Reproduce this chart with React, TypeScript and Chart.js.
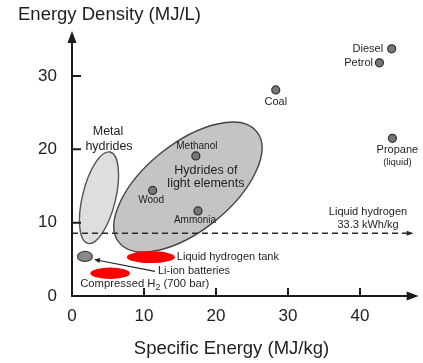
import React, { useEffect, useRef } from "react";
import { Chart, registerables } from "chart.js";

Chart.register(...registerables);

// ---------- data ----------
const fuelNames = ["Diesel", "Petrol", "Coal", "Propane", "Methanol", "Wood", "Ammonia"];
const specificEnergy = [44.4, 42.7, 28.3, 44.5, 17.2, 11.2, 17.5]; // MJ/kg
const energyDensity = [33.7, 31.8, 28.1, 21.5, 19.1, 14.4, 11.6]; // MJ/L

const xTickValues = [0, 10, 20, 30, 40];
const yTickValues = [0, 10, 20, 30];

const regionNames = ["Metal hydrides", "Hydrides of light elements", "Li-ion batteries", "Liquid hydrogen tank", "Compressed H2 (700 bar)"];
const regionCenterX = [3.75, 16.1, 1.8, 10.95, 5.3]; // MJ/kg
const regionCenterY = [13.4, 14.85, 5.4, 5.3, 3.1]; // MJ/L
const regionSemiMajor = [6.53, 12.28, 1.04, 3.33, 2.74]; // in MJ/kg units
const regionSemiMinor = [2.3, 6.03, 0.69, 0.83, 0.8]; // in MJ/kg units

const liquidHydrogenDensity = 8.55; // MJ/L
const liquidHydrogenLabel = ["Liquid hydrogen", "33.3 kWh/kg"];

const xTitle = "Specific Energy (MJ/kg)";
const yTitle = "Energy Density (MJ/L)";

// ---------- styles / layout ----------
const FONT = "'Liberation Sans', Arial, Helvetica, sans-serif";
const TEXT = "#1e1e1e";
const AXIS = "#1a1a1a";

const regionStyle = [
  { rot: -76.3, fill: "#dedede", stroke: "#555", lw: 1.4 },
  { rot: -38.9, fill: "#c4c4c4", stroke: "#444", lw: 1.4 },
  { rot: 0, fill: "#8a8a8a", stroke: "#444", lw: 1.2 },
  { rot: 0, fill: "#ff0000", stroke: null, lw: 0 },
  { rot: 0, fill: "#ff0000", stroke: null, lw: 0 },
];

// label line(s) per region: [text, dx, dy, align, size]
const regionLabelLayout: any[] = [
  [["Metal", 9, -66, "center", 12.5], ["hydrides", 10, -51, "center", 12.5]],
  [["Hydrides of", 18, -16.5, "center", 12.5], ["light elements", 18, -3.5, "center", 12.5]],
  [["Li-ion batteries", 73, 15, "left", 11]],
  [["Liquid hydrogen tank", 26, 0.3, "left", 11]],
  [["SUB", -30, 11, "left", 11.3]],
];

// [dx, dy, align, size]
const pointLabelLayout: any[] = [
  [-8.5, 0.3, "right", 11],
  [-6.5, 0, "right", 11],
  [0, 11.7, "center", 11],
  [5, 11.7, "center", 11],
  [1, -9.5, "center", 10],
  [-1.5, 10, "center", 10],
  [-3, 9.3, "center", 10],
];

function arrowHead(ctx: CanvasRenderingContext2D, tipX: number, tipY: number, dirX: number, dirY: number, len: number, half: number) {
  const nx = -dirY, ny = dirX;
  const bx = tipX - dirX * len, by = tipY - dirY * len;
  ctx.beginPath();
  ctx.moveTo(tipX, tipY);
  ctx.lineTo(bx + nx * half, by + ny * half);
  ctx.lineTo(bx - nx * half, by - ny * half);
  ctx.closePath();
  ctx.fill();
}

const overlayPlugin = {
  id: "overlay",
  beforeDatasetsDraw(chart: any) {
    const { ctx, scales } = chart;
    const x = scales.x, y = scales.y;
    const unit = (v: number) => x.getPixelForValue(v) - x.getPixelForValue(0);
    regionNames.forEach((_, i) => {
      const s = regionStyle[i];
      ctx.save();
      ctx.beginPath();
      ctx.ellipse(
        x.getPixelForValue(regionCenterX[i]),
        y.getPixelForValue(regionCenterY[i]),
        unit(regionSemiMajor[i]),
        unit(regionSemiMinor[i]),
        (s.rot * Math.PI) / 180,
        0,
        Math.PI * 2
      );
      ctx.fillStyle = s.fill;
      ctx.fill();
      if (s.stroke) {
        ctx.lineWidth = s.lw;
        ctx.strokeStyle = s.stroke;
        ctx.stroke();
      }
      ctx.restore();
    });
  },
  afterDatasetsDraw(chart: any) {
    const { ctx, scales, chartArea } = chart;
    const x = scales.x, y = scales.y;
    ctx.save();

    // dashed liquid hydrogen line
    const ly = y.getPixelForValue(liquidHydrogenDensity);
    ctx.strokeStyle = "#2a2a2a";
    ctx.fillStyle = "#2a2a2a";
    ctx.lineWidth = 1.4;
    ctx.setLineDash([6, 4]);
    ctx.beginPath();
    ctx.moveTo(chartArea.left, ly);
    ctx.lineTo(chartArea.right - 8, ly);
    ctx.stroke();
    ctx.setLineDash([]);
    arrowHead(ctx, chartArea.right - 4, ly, 1, 0, 7, 2.5);

    ctx.fillStyle = TEXT;
    ctx.font = `11px ${FONT}`;
    ctx.textAlign = "center";
    ctx.textBaseline = "middle";
    ctx.fillText(liquidHydrogenLabel[0], 368, ly - 21);
    ctx.fillText(liquidHydrogenLabel[1], 368, ly - 8.7);

    // axes
    ctx.strokeStyle = AXIS;
    ctx.fillStyle = AXIS;
    ctx.lineWidth = 2;
    ctx.beginPath();
    ctx.moveTo(chartArea.left, chartArea.bottom + 1);
    ctx.lineTo(chartArea.left, chartArea.top + 8);
    ctx.moveTo(chartArea.left - 1, chartArea.bottom);
    ctx.lineTo(chartArea.right - 8, chartArea.bottom);
    ctx.stroke();
    arrowHead(ctx, chartArea.left, chartArea.top - 1, 0, -1, 12, 4.5);
    arrowHead(ctx, chartArea.right + 1, chartArea.bottom, 1, 0, 12, 4.5);

    // tick marks (inward)
    ctx.lineWidth = 2;
    ctx.beginPath();
    yTickValues.forEach((v) => {
      if (v === 0) return;
      const py = y.getPixelForValue(v);
      ctx.moveTo(chartArea.left, py);
      ctx.lineTo(chartArea.left + 9, py);
    });
    xTickValues.forEach((v) => {
      if (v === 0) return;
      const px = x.getPixelForValue(v);
      ctx.moveTo(px, chartArea.bottom);
      ctx.lineTo(px, chartArea.bottom - 8);
    });
    ctx.stroke();

    // point labels
    const meta = chart.getDatasetMeta(0);
    ctx.fillStyle = TEXT;
    ctx.textBaseline = "middle";
    fuelNames.forEach((name, i) => {
      const el = meta.data[i];
      const [dx, dy, align, size] = pointLabelLayout[i];
      ctx.font = `${size}px ${FONT}`;
      ctx.textAlign = align;
      ctx.fillText(name, el.x + dx, el.y + dy);
    });
    // propane note
    {
      const el = meta.data[3];
      ctx.font = `9.5px ${FONT}`;
      ctx.textAlign = "center";
      ctx.fillText("(liquid)", el.x + 5, el.y + 24.4);
    }

    // region labels
    regionNames.forEach((name, i) => {
      const cx = x.getPixelForValue(regionCenterX[i]);
      const cy = y.getPixelForValue(regionCenterY[i]);
      regionLabelLayout[i].forEach(([txt, dx, dy, align, size]: any) => {
        ctx.font = `${size}px ${FONT}`;
        ctx.textAlign = align;
        if (txt === "SUB") {
          // "Compressed H2 (700 bar)" with subscript 2
          const parts = name.split("2 ");
          let tx = cx + dx;
          const ty = cy + dy;
          ctx.textAlign = "left";
          ctx.fillText(parts[0], tx, ty);
          tx += ctx.measureText(parts[0]).width;
          ctx.font = `${size * 0.78}px ${FONT}`;
          ctx.fillText("2", tx, ty + 3.5);
          tx += ctx.measureText("2").width;
          ctx.font = `${size}px ${FONT}`;
          ctx.fillText(" " + parts[1], tx, ty);
        } else {
          ctx.fillText(txt, cx + dx, cy + dy);
        }
      });
    });

    // Li-ion pointer arrow
    {
      const i = 2;
      const cx = x.getPixelForValue(regionCenterX[i]);
      const cy = y.getPixelForValue(regionCenterY[i]);
      const sx = cx + 70, sy = cy + 15;
      const ex = cx + 9, ey = cy + 3;
      ctx.strokeStyle = "#222";
      ctx.fillStyle = "#222";
      ctx.lineWidth = 1.1;
      ctx.beginPath();
      ctx.moveTo(sx, sy);
      ctx.lineTo(ex + 4, ey + 0.8);
      ctx.stroke();
      const len = Math.hypot(sx - ex, sy - ey);
      arrowHead(ctx, ex, ey, (ex - sx) / len, (ey - sy) / len, 6, 2.5);
    }

    ctx.restore();
  },
  afterDraw(chart: any) {
    const { ctx } = chart;
    ctx.save();
    ctx.fillStyle = TEXT;
    ctx.font = `18.5px ${FONT}`;
    ctx.textBaseline = "middle";
    ctx.textAlign = "left";
    ctx.fillText(yTitle, 18, 14.5);
    ctx.textAlign = "center";
    ctx.fillText(xTitle, 231.5, 348.5);
    ctx.restore();
  },
};

export default function App() {
  const canvasRef = useRef<HTMLCanvasElement | null>(null);

  useEffect(() => {
    if (!canvasRef.current) return;
    const chart = new Chart(canvasRef.current, {
      type: "scatter",
      data: {
        datasets: [
          {
            label: "Fuels",
            data: fuelNames.map((_, i) => ({ x: specificEnergy[i], y: energyDensity[i] })),
            pointRadius: 4,
            pointHoverRadius: 4,
            backgroundColor: "#777777",
            borderColor: "#2e2e2e",
            borderWidth: 1.2,
          },
        ],
      },
      options: {
        responsive: false,
        animation: false,
        events: [],
        layout: { padding: { top: 32, right: 5.4, left: 0, bottom: 0 } },
        plugins: { legend: { display: false }, tooltip: { enabled: false }, title: { display: false } },
        scales: {
          x: {
            type: "linear",
            min: 0,
            max: 48,
            grid: { display: false, drawTicks: false },
            border: { display: false },
            afterBuildTicks: (scale: any) => {
              scale.ticks = xTickValues.map((v) => ({ value: v }));
            },
            afterFit: (scale: any) => {
              scale.height = 67;
            },
            ticks: {
              padding: 10,
              color: TEXT,
              font: { family: FONT, size: 17 },
              callback: (v: any) => String(v),
            },
          },
          y: {
            type: "linear",
            min: 0,
            max: 36,
            grid: { display: false, drawTicks: false },
            border: { display: false },
            afterBuildTicks: (scale: any) => {
              scale.ticks = yTickValues.map((v) => ({ value: v }));
            },
            afterFit: (scale: any) => {
              scale.width = 72;
            },
            ticks: {
              padding: 15,
              color: TEXT,
              font: { family: FONT, size: 17 },
              callback: (v: any) => String(v),
            },
          },
        },
      },
      plugins: [overlayPlugin],
    });
    return () => chart.destroy();
  }, []);

  return (
    <div style={{ position: "absolute", left: 0, top: 0, width: 423, height: 363, background: "#fff" }}>
      <canvas ref={canvasRef} width={423} height={363} style={{ display: "block" }} />
    </div>
  );
}
